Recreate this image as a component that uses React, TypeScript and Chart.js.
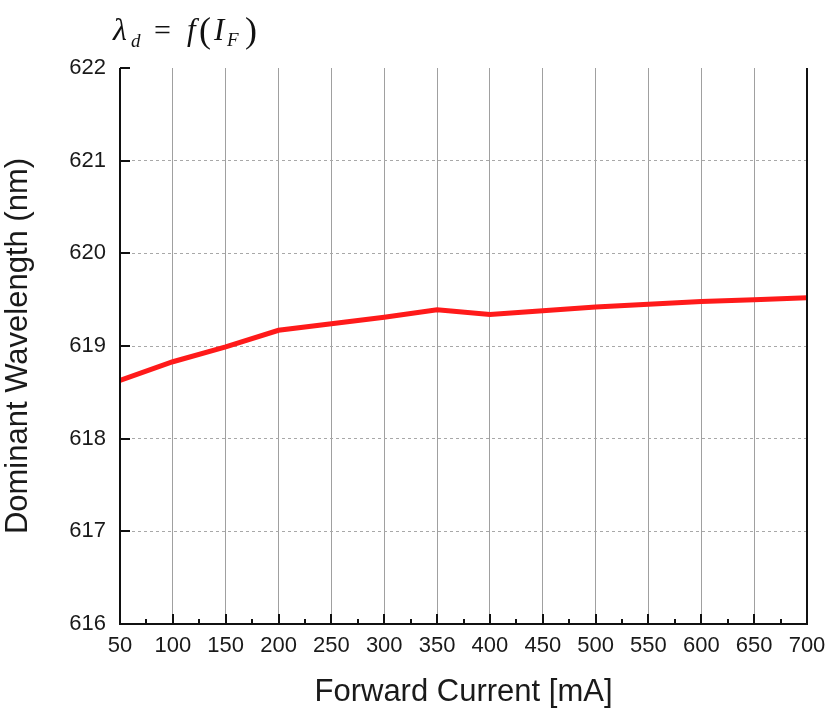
import React, { useEffect, useRef } from "react";
import { Chart, registerables } from "chart.js";

Chart.register(...registerables);

const currents = [50, 100, 150, 200, 250, 300, 350, 400, 450, 500, 550, 600, 650, 700];
const wavelengths = [618.63, 618.83, 618.99, 619.17, 619.24, 619.31, 619.39, 619.34, 619.38, 619.42, 619.45, 619.48, 619.5, 619.52];
const xMin = 50;
const xMax = 700;
const xStep = 50;
const yMin = 616;
const yMax = 622;
const yStep = 1;
const xTitle = "Forward Current [mA]";
const yTitle = "Dominant Wavelength (nm)";

const axesPlugin = {
  id: "axesPlugin",
  afterDraw(chart: any) {
    const { ctx, chartArea, scales } = chart;
    const { left, right, top, bottom } = chartArea;
    ctx.save();
    ctx.strokeStyle = "#111";
    ctx.lineWidth = 2;
    ctx.beginPath();
    ctx.moveTo(left, top);
    ctx.lineTo(left, bottom);
    ctx.lineTo(right, bottom);
    ctx.lineTo(right, top);
    ctx.stroke();
    for (let v = yMin; v <= yMax; v += yStep) {
      const y = Math.round(scales.y.getPixelForValue(v));
      ctx.beginPath();
      ctx.moveTo(left, y);
      ctx.lineTo(left + 10, y);
      ctx.stroke();
    }
    for (let v = xMin; v <= xMax; v += xStep / 2) {
      const x = Math.round(scales.x.getPixelForValue(v));
      const major = (v - xMin) % xStep === 0;
      ctx.beginPath();
      ctx.moveTo(x, bottom);
      ctx.lineTo(x, bottom - (major ? 10 : 5));
      ctx.stroke();
    }
    ctx.fillStyle = "#111";
    ctx.textBaseline = "alphabetic";
    ctx.textAlign = "left";
    ctx.font = "italic 32px 'Liberation Serif', 'DejaVu Serif', serif";
    ctx.fillText("λ", 113, 40);
    ctx.font = "italic 19px 'Liberation Serif', serif";
    ctx.fillText("d", 131, 47);
    ctx.font = "30px 'Liberation Serif', serif";
    ctx.fillText("=", 154, 40);
    ctx.font = "italic 31px 'Liberation Serif', serif";
    ctx.fillText("f", 187, 40);
    ctx.font = "36px 'Liberation Serif', serif";
    ctx.fillText("(", 199, 42);
    ctx.font = "italic 31px 'Liberation Serif', serif";
    ctx.fillText("I", 214, 40);
    ctx.font = "italic 19px 'Liberation Serif', serif";
    ctx.fillText("F", 227, 46);
    ctx.font = "36px 'Liberation Serif', serif";
    ctx.fillText(")", 245, 42);
    ctx.restore();
  },
};

export default function App() {
  const ref = useRef<HTMLCanvasElement | null>(null);
  useEffect(() => {
    if (!ref.current) return;
    const chart = new Chart(ref.current, {
      type: "line",
      data: {
        datasets: [
          {
            data: currents.map((c, i) => ({ x: c, y: wavelengths[i] })),
            borderColor: "#ff1a1a",
            borderWidth: 5,
            pointRadius: 0,
            tension: 0,
          },
        ],
      },
      options: {
        animation: false,
        responsive: false,
        layout: { padding: { top: 68, right: 22, left: 0, bottom: 0 } },
        plugins: { legend: { display: false }, tooltip: { enabled: false }, title: { display: false } },
        scales: {
          x: {
            type: "linear",
            min: xMin,
            max: xMax,
            ticks: { stepSize: xStep, color: "#1a1a1a", font: { family: "'Liberation Sans', Arial, sans-serif", size: 22 }, padding: 9, maxRotation: 0 },
            grid: { color: "#a0a0a0", lineWidth: 1, drawTicks: false },
            border: { display: false },
            title: { display: true, text: xTitle, color: "#1a1a1a", font: { family: "'Liberation Sans', Arial, sans-serif", size: 31 }, padding: { top: 12, bottom: 0 } },
            afterFit: (s: any) => { s.height = 711 - 624; s.paddingLeft = 0; s.paddingRight = 0; },
          },
          y: {
            type: "linear",
            min: yMin,
            max: yMax,
            ticks: { stepSize: yStep, color: "#1a1a1a", font: { family: "'Liberation Sans', Arial, sans-serif", size: 22 }, padding: 14 },
            grid: {
              color: (c: any) => (c.tick && c.tick.value === yMax ? "rgba(0,0,0,0)" : "#a8a8a8"),
              lineWidth: 1,
              drawTicks: false,
            },
            border: { display: false, dash: [3, 3] },
            title: { display: true, text: yTitle, color: "#1a1a1a", font: { family: "'Liberation Sans', Arial, sans-serif", size: 31 }, padding: { top: 0, bottom: 4 } },
            afterFit: (s: any) => { s.width = 120; s.paddingTop = 0; s.paddingBottom = 0; },
          },
        },
      },
      plugins: [axesPlugin],
    });
    return () => chart.destroy();
  }, []);
  return (
    <div style={{ position: "fixed", left: 0, top: 0, width: 829, height: 711, background: "#fff" }}>
      <canvas ref={ref} width={829} height={711} style={{ width: 829, height: 711 }} />
    </div>
  );
}
